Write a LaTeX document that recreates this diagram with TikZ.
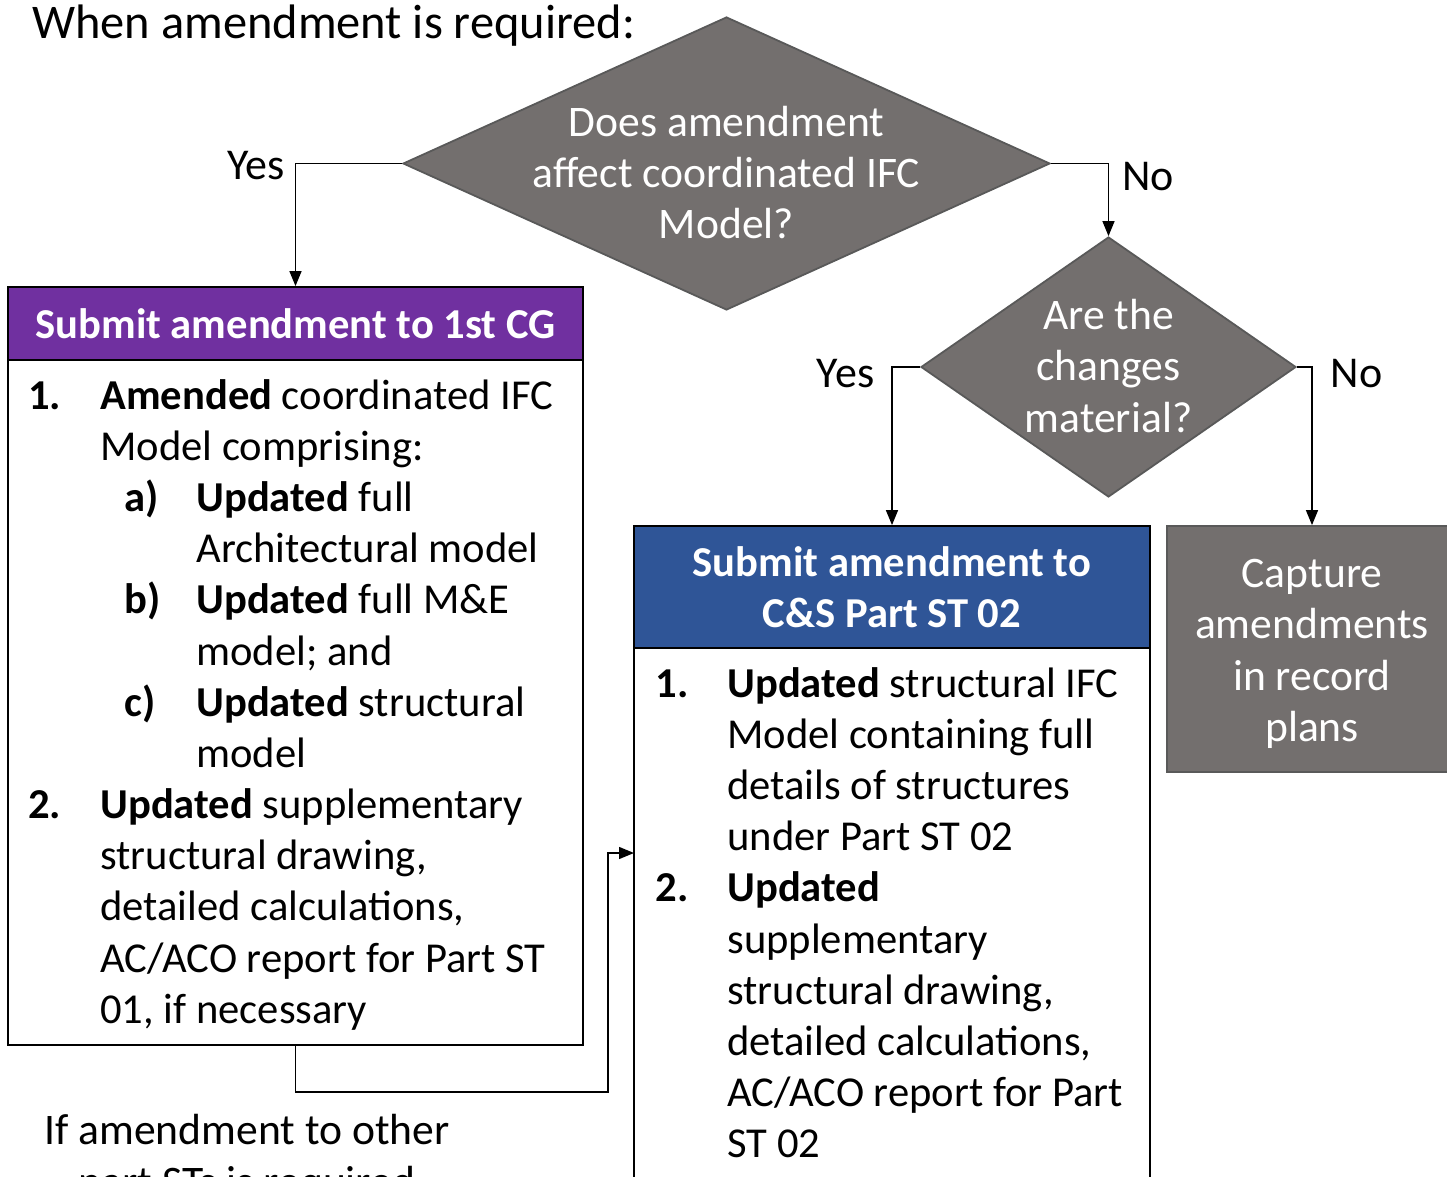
\documentclass[tikz,border=0pt]{standalone}
\usepackage{fontspec}
\setmainfont{Carlito}
\usetikzlibrary{arrows.meta,shapes.geometric,positioning}
\definecolor{cgpurple}{HTML}{7030A0}
\definecolor{csblue}{HTML}{2F5597}
\definecolor{qgray}{HTML}{736F6E}
\definecolor{qedge}{HTML}{595959}
\newcommand{\boxfont}{\fontsize{21.3}{25.6}\selectfont}
\newcommand{\qfont}{\fontsize{21.8}{25.7}\selectfont}
\newcommand{\spanrow}[1]{\multicolumn{3}{@{}l@{}}{#1}}
\tikzset{
	% ------- every something
	every node/.style={
		inner sep=0pt,
		font=\boxfont,
	},
	% ------- custom
	flow/.style={
		line width=0.7pt,
		-{Triangle[length=7.5pt,width=6pt]},
	},
	question/.style={
		diamond, draw=qedge, fill=qgray, line width=0.9pt,
	},
	qtext/.style={
		align=center, text=white, font=\qfont,
	},
	header/.style={
		rectangle, draw=black, line width=0.9pt,
		text=white, font=\boxfont\bfseries, align=center,
	},
	body/.style={
		rectangle, draw=black, fill=white, line width=0.9pt,
	},
	answer/.style={
		font=\fontsize{22}{26}\selectfont,
	},
}

\begin{document}
\begin{tikzpicture}[x=0.5pt,y=-0.5pt]

% frame %{{{1

	\useasboundingbox (0,0) rectangle (1447,1177);
	\clip (0,0) rectangle (1447,1177);

% coordinates %{{{1

	\coordinate (turn) at (608,1092);
	\coordinate (entry) at (634,853);

% questions %{{{1

	\node[question, minimum width=323.5pt, minimum height=146.5pt,
		label={[qtext, yshift=-4.5pt]center:{Does amendment\\affect coordinated IFC\\Model?}}]
		(q1) at (726.5,163.5) {};

	\node[question, minimum width=187.5pt, minimum height=130pt,
		label={[qtext, yshift=0.5pt]center:{Are the\\changes\\material?}}]
		(q2) at (1108.5,367) {};

% boxes %{{{1

	\node[body, minimum width=287.5pt, minimum height=342.5pt]
		(body1) at (295.5,702.5) {};
	\node[header, fill=cgpurple, minimum width=287.5pt, minimum height=36.5pt]
		(hd1) at (295.5,323.5) {Submit amendment to 1st CG};

	\node[body, minimum width=258pt, minimum height=301pt]
		(body2) at (892,949) {};
	\node[header, fill=csblue, minimum width=258pt, minimum height=61pt]
		(hd2) at (892,587) {Submit amendment to\\C\&S Part ST 02};

	\node[rectangle, draw=qedge, fill=qgray, line width=0.9pt,
		minimum width=145pt, minimum height=123pt,
		label={[qtext, yshift=-2.5pt]center:{Capture\\amendments\\in record\\plans}}]
		(rec) at (1312,649) {};

% box texts %{{{1

	\node[anchor=base west] (list1) at (28,409) {%
		\begin{tabular}[t]{@{}p{36pt}@{}p{12pt}@{}p{36pt}@{}l@{}}
		\textbf{1.} & \spanrow{\textbf{Amended} coordinated IFC}\\
		& \spanrow{Model comprising:}\\
		& & \textbf{a)} & \textbf{Updated} full\\
		& & & Architectural model\\
		& & \textbf{b)} & \textbf{Updated} full M\&E\\
		& & & model; and\\
		& & \textbf{c)} & \textbf{Updated} structural\\
		& & & model\\
		\textbf{2.} & \spanrow{\textbf{Updated} supplementary}\\
		& \spanrow{structural drawing,}\\
		& \spanrow{detailed calculations,}\\
		& \spanrow{AC/ACO report for Part ST}\\
		& \spanrow{01, if necessary}\\
		\end{tabular}};

	\node[anchor=base west] (list2) at (655,697) {%
		\begin{tabular}[t]{@{}p{36pt}@{}l@{}}
		\textbf{1.} & \textbf{Updated} structural IFC\\
		& Model containing full\\
		& details of structures\\
		& under Part ST 02\\
		\textbf{2.} & \textbf{Updated}\\
		& supplementary\\
		& structural drawing,\\
		& detailed calculations,\\
		& AC/ACO report for Part\\
		& ST 02\\
		\end{tabular}};

% free texts %{{{1

	\node[anchor=base west, font=\fontsize{24.2}{28}\selectfont]
		(title) at (32,39) {When amendment is required:};
	\node[anchor=base, align=center, font=\qfont] (other) at (247,1196)
		{If amendment to other\\part STs is required};

% connectors %{{{1

	\draw[flow] (q1.west) -| (hd1.north)
		node[answer, pos=0.5, anchor=east, xshift=-5pt, yshift=-1pt] {Yes};
	\draw[flow] (q1.east) -| (q2.north)
		node[answer, pos=0.5, anchor=west, xshift=6.5pt, yshift=-6.5pt] {No};
	\draw[flow] (q2.west) -| (hd2.north)
		node[answer, pos=0.5, anchor=east, xshift=-8.5pt, yshift=-3.5pt] {Yes};
	\draw[flow] (q2.east) -| (rec.north)
		node[answer, pos=0.5, anchor=west, xshift=9pt, yshift=-3.5pt] {No};
	\draw[flow] (body1.south) |- (turn) |- (entry);

% closing %{{{1

\end{tikzpicture}
\end{document}
